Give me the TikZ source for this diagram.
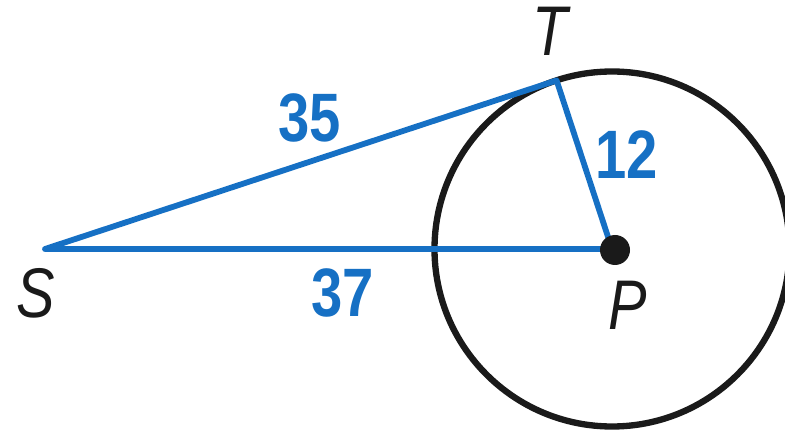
\documentclass[tikz,border=0pt]{standalone}
\usepackage{fontspec}
\setmainfont{Liberation Sans}
\newfontfamily\condsans[FakeStretch=0.82]{Liberation Sans}
\usepackage{xcolor}
\usepackage{tikz}
\usetikzlibrary{calc}
\definecolor{SegBlue}{HTML}{1670C4}
\definecolor{InkBlack}{HTML}{1A1A1A}

\tikzset{
  seg/.style={SegBlue,line width=3.3pt,line cap=round,line join=round},
  seglabel/.style={SegBlue,font=\condsans\fontsize{39}{39}\selectfont\bfseries},
  ptlabel/.style={InkBlack,font=\condsans\fontsize{40}{40}\selectfont\itshape}
}

\begin{document}
\begin{tikzpicture}[x=1cm,y=1cm]
\path[use as bounding box] (0,0) rectangle (15.70,8.60);
\coordinate (P) at (12.24,3.62);
\coordinate (S) at (0.90,3.62);
\coordinate (T) at ($(P)+(108.2:3.55)$);
\draw[InkBlack,line width=3.6pt] (P) circle (3.55);
\draw[seg] (S) -- (T) -- (P) -- cycle;
\fill[InkBlack] (12.30,3.60) circle (0.30);
\node[ptlabel] (labS) at (0.72,2.74) {S};
\node[ptlabel] (labT) at (11.00,7.98) {T};
\node[ptlabel] (labP) at (12.56,2.50) {P};
\node[seglabel] (lenST) at (6.20,6.24) {35};
\node[seglabel] (lenTP) at (12.54,5.50) {12};
\node[seglabel] (lenSP) at (6.86,2.74) {37};
\end{tikzpicture}
\end{document}
